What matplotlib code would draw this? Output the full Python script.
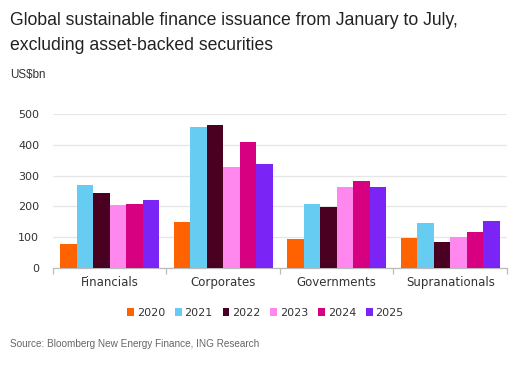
import numpy as np
import matplotlib.pyplot as plt

# values (US$bn)
categories = ["Financials", "Corporates", "Governments", "Supranationals"]
years = ["2020", "2021", "2022", "2023", "2024", "2025"]
v2020 = [79, 149, 94, 97]
v2021 = [268, 458, 208, 146]
v2022 = [242, 465, 199, 83]
v2023 = [203, 327, 262, 99]
v2024 = [209, 409, 284, 118]
v2025 = [222, 339, 262, 151]
series = [v2020, v2021, v2022, v2023, v2024, v2025]
colors = ["#FF6200", "#66CCF2", "#4A0020", "#FF88EE", "#D60080", "#7A25F5"]

fig = plt.figure(figsize=(5.31, 3.66), dpi=100)
ax = fig.add_axes([0.0998, 0.2678, 0.855, 0.4207])

x = np.arange(len(categories))
bw = 0.145
for i, (vals, col) in enumerate(zip(series, colors)):
    off = (i - 2.5) * bw
    ax.bar(x + off, vals, bw, color=col, label=years[i], zorder=3, linewidth=0)

ax.set_xlim(-0.5, len(categories) - 0.5)
ax.set_ylim(0, 500)
ax.set_yticks([0, 100, 200, 300, 400, 500])
ax.yaxis.grid(True, color="#E6E6E6", linewidth=0.9, zorder=0)
ax.tick_params(axis="y", length=0, labelsize=8, colors="#333333", pad=10)

ax.set_xticks(x)
ax.set_xticklabels(categories, fontsize=8.5, color="#333333")
ax.set_xticks(np.arange(-0.5, len(categories)), minor=True)
ax.tick_params(axis="x", which="major", length=0, pad=6)
ax.tick_params(axis="x", which="minor", length=4, color="#BBBBBB", width=0.9)

for s in ["top", "right", "left"]:
    ax.spines[s].set_visible(False)
ax.spines["bottom"].set_color("#BBBBBB")
ax.spines["bottom"].set_linewidth(0.9)

arial = "Liberation Sans"
fig.text(0.019, 0.945, "Global sustainable finance issuance from January to July,",
         fontsize=12.7, color="#222222", va="center", family=arial)
fig.text(0.019, 0.877, "excluding asset-backed securities",
         fontsize=12.7, color="#222222", va="center", family=arial)
fig.text(0.019, 0.795, "US$bn", fontsize=8.4, color="#333333", va="center", family=arial)

leg = fig.legend(loc="center", bbox_to_anchor=(0.5, 0.145), ncol=6, frameon=False,
                 fontsize=8, handlelength=0.6, handleheight=0.6, handletextpad=0.25,
                 columnspacing=0.9)
for t in leg.get_texts():
    t.set_color("#333333")

fig.text(0.019, 0.06, "Source: Bloomberg New Energy Finance, ING Research",
         fontsize=7.2, color="#666666", va="center", family=arial)

fig.savefig("out.png", dpi=100)
